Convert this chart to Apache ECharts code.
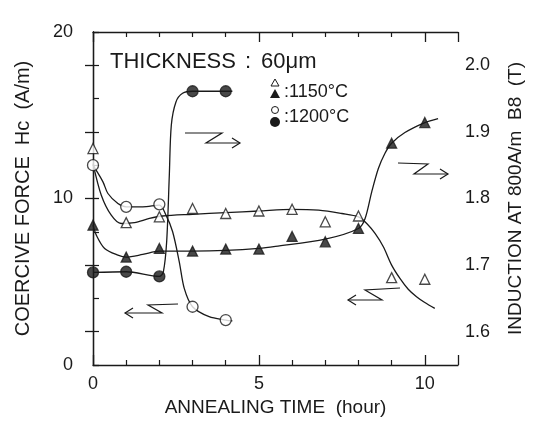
<!DOCTYPE html>
<html>
<head>
<meta charset="utf-8">
<script src="https://cdn.jsdelivr.net/npm/echarts@6/dist/echarts.min.js"></script>
<style>
  html, body { margin: 0; padding: 0; background: #fff; }
  #chart { width: 533px; height: 423px; }
</style>
</head>
<body>
<div id="chart"></div>
<script>
// measured points (hours)
var times1150 = [0, 1, 2, 3, 4, 5, 6, 7, 8, 9, 10]
var hc1150 = [13.0, 8.55, 8.9, 9.4, 9.1, 9.25, 9.35, 8.6, 8.95, 5.25, 5.15]
var b1150 = [1.760, 1.712, 1.725, 1.721, 1.724, 1.724, 1.743, 1.735, 1.755, 1.883, 1.914]
var times1200 = [0, 1, 2, 3, 4]
var hc1200 = [12.0, 9.5, 9.65, 3.5, 2.7]
var b1200 = [1.689, 1.690, 1.683, 1.961, 1.961]

// hand drawn curves
var fitHc1150T = [0, 0.25, 0.55, 0.85, 1.25, 1.7, 2.1, 3, 4, 5, 6, 6.8, 7.5, 8, 8.25, 8.5, 8.75, 9, 9.25, 9.5, 9.75, 10, 10.3]
var fitHc1150V = [12.1, 10.2, 9.0, 8.5, 8.55, 8.8, 8.95, 9.05, 9.15, 9.25, 9.35, 9.3, 9.1, 8.9, 8.5, 7.9, 7.1, 6.0, 5.2, 4.55, 4.1, 3.75, 3.4]
var fitHc1200T = [0, 0.3, 0.45, 0.75, 1, 1.5, 2, 2.2, 2.4, 2.6, 2.75, 3, 3.5, 4, 4.2]
var fitHc1200V = [12.0, 11.0, 10.3, 9.7, 9.5, 9.5, 9.6, 9.0, 8.0, 6.2, 4.6, 3.5, 2.9, 2.7, 2.65]
var fitB1150T = [0, 0.1, 0.35, 0.75, 1, 1.5, 2, 3, 4, 5, 5.5, 7, 8, 8.2, 8.4, 8.6, 8.8, 9, 9.4, 10, 10.4]
var fitB1150V = [1.760, 1.745, 1.725, 1.715, 1.712, 1.716, 1.721, 1.721, 1.722, 1.725, 1.728, 1.739, 1.755, 1.77, 1.81, 1.845, 1.868, 1.883, 1.899, 1.914, 1.920]
var fitB1200T = [0, 1, 2, 2.12, 2.22, 2.3, 2.36, 2.5, 2.7, 3, 4, 4.2]
var fitB1200V = [1.689, 1.690, 1.683, 1.69, 1.735, 1.835, 1.91, 1.945, 1.958, 1.961, 1.961, 1.961]

var xTicks = [0, 5, 10]
var hcLabels = [0, 10, 20]
var bTicks = [1.6, 1.7, 1.8, 1.9, 2.0]

function pairs (t, v) {
  return t.map(function (x, i) { return [x, v[i]] })
}

var ink = '#1a1a1a'
var font = 'Liberation Sans'

function curve (t, v, axis) {
  return {
    type: 'line',
    yAxisIndex: axis,
    data: pairs(t, v),
    smooth: 0.3,
    showSymbol: false,
    lineStyle: { color: ink, width: 1.3 },
    silent: true,
    z: 2
  }
}

function marks (t, v, axis, symbol, filled, size) {
  return {
    type: 'scatter',
    yAxisIndex: axis,
    data: pairs(t, v),
    symbol: symbol,
    symbolSize: size,
    itemStyle: { color: filled ? ink : '#fff', borderColor: ink, borderWidth: 1.3 },
    z: 5
  }
}

function arrow (pts, head) {
  return [
    { type: 'polyline', shape: { points: pts }, style: { stroke: ink, lineWidth: 1.2, fill: null } },
    { type: 'polyline', shape: { points: head }, style: { stroke: ink, lineWidth: 1.2, fill: null } }
  ]
}

var chart = echarts.init(document.getElementById('chart'))

var graphics = [
  { type: 'text', left: 110, top: 51, style: { text: 'THICKNESS', font: '22px ' + font, fill: ink } },
  { type: 'text', left: 245, top: 51, style: { text: ':', font: '22px ' + font, fill: ink } },
  { type: 'text', left: 261, top: 51, style: { text: '60μm', font: '22px ' + font, fill: ink } },
  { type: 'polygon', shape: { points: [[275, 79], [279, 86], [271, 86]] }, style: { fill: '#fff', stroke: ink, lineWidth: 1 } },
  { type: 'polygon', shape: { points: [[275, 89], [280, 98], [270, 98]] }, style: { fill: ink } },
  { type: 'text', left: 284, top: 83, style: { text: ':1150°C', font: '18px ' + font, fill: ink } },
  { type: 'circle', shape: { cx: 275, cy: 110, r: 3.5 }, style: { fill: '#fff', stroke: ink, lineWidth: 1 } },
  { type: 'circle', shape: { cx: 275, cy: 122, r: 5 }, style: { fill: ink } },
  { type: 'text', left: 284, top: 108, style: { text: ':1200°C', font: '18px ' + font, fill: ink } }
]
graphics = graphics
  .concat(arrow([[185, 133], [222, 133], [206, 143], [240, 143]], [[232, 138], [240, 143], [232, 148]]))
  .concat(arrow([[398, 163], [428, 164], [414, 174], [448, 174]], [[440, 169], [448, 174], [440, 179]]))
  .concat(arrow([[178, 304], [148, 305], [162, 313], [125, 313]], [[133, 308], [125, 313], [133, 318]]))
  .concat(arrow([[400, 288], [365, 290], [382, 300], [348, 300]], [[356, 295], [348, 300], [356, 305]]))

var axisLine = { show: true, lineStyle: { color: ink, width: 1.3 } }

chart.setOption({
  backgroundColor: '#fff',
  animation: false,
  grid: { left: 93, right: 66, top: 32, bottom: 58 },
  xAxis: [{
    type: 'value',
    min: 0,
    max: 11,
    interval: 5,
    name: 'ANNEALING TIME  (hour)',
    nameLocation: 'middle',
    nameGap: 33,
    nameTextStyle: { fontFamily: font, fontSize: 19, color: ink },
    axisLine: axisLine,
    axisTick: { show: true, inside: true, length: 10, lineStyle: { color: ink, width: 1.3 } },
    minorTick: { show: true, splitNumber: 5, length: 5, lineStyle: { color: ink, width: 1.2 } },
    axisLabel: {
      customValues: xTicks,
      fontFamily: font,
      fontSize: 18,
      color: ink,
      margin: 10
    },
    splitLine: { show: false }
  }, {
    type: 'value',
    position: 'top',
    min: 0,
    max: 11,
    interval: 5,
    axisLine: axisLine,
    axisTick: { show: true, inside: true, length: 10, lineStyle: { color: ink, width: 1.3 } },
    minorTick: { show: true, splitNumber: 5, length: 5, lineStyle: { color: ink, width: 1.2 } },
    axisLabel: { show: false },
    splitLine: { show: false }
  }],
  yAxis: [{
    type: 'value',
    min: 0,
    max: 20,
    interval: 10,
    name: 'COERCIVE FORCE  Hc  (A/m)',
    nameLocation: 'middle',
    nameGap: 60,
    nameTextStyle: { fontFamily: font, fontSize: 20, color: ink },
    axisLine: axisLine,
    axisTick: { show: true, inside: true, length: 6, lineStyle: { color: ink, width: 1.3 } },
    minorTick: { show: true, splitNumber: 5, length: 6, lineStyle: { color: ink, width: 1.2 } },
    axisLabel: { customValues: hcLabels, fontFamily: font, fontSize: 18, color: ink, margin: 20 },
    splitLine: { show: false }
  }, {
    type: 'value',
    position: 'right',
    min: 1.55,
    max: 2.05,
    name: 'INDUCTION AT 800A/m  B8  (T)',
    nameLocation: 'middle',
    nameRotate: 90,
    nameGap: 48,
    nameTextStyle: { fontFamily: font, fontSize: 19, color: ink },
    axisLine: axisLine,
    axisTick: { show: true, inside: true, length: 8, customValues: bTicks, lineStyle: { color: ink, width: 1.3 } },
    axisLabel: {
      customValues: bTicks,
      fontFamily: font,
      fontSize: 18,
      color: ink,
      margin: 7,
      formatter: function (v) { return v.toFixed(1) }
    },
    splitLine: { show: false }
  }],
  graphic: graphics,
  series: [
    curve(fitHc1150T, fitHc1150V, 0),
    curve(fitHc1200T, fitHc1200V, 0),
    curve(fitB1150T, fitB1150V, 1),
    curve(fitB1200T, fitB1200V, 1),
    marks(times1150, hc1150, 0, 'triangle', false, 10),
    marks(times1150, b1150, 1, 'triangle', true, 10),
    marks(times1200, hc1200, 0, 'circle', false, 11),
    marks(times1200, b1200, 1, 'circle', true, 11)
  ]
})
</script>
</body>
</html>
